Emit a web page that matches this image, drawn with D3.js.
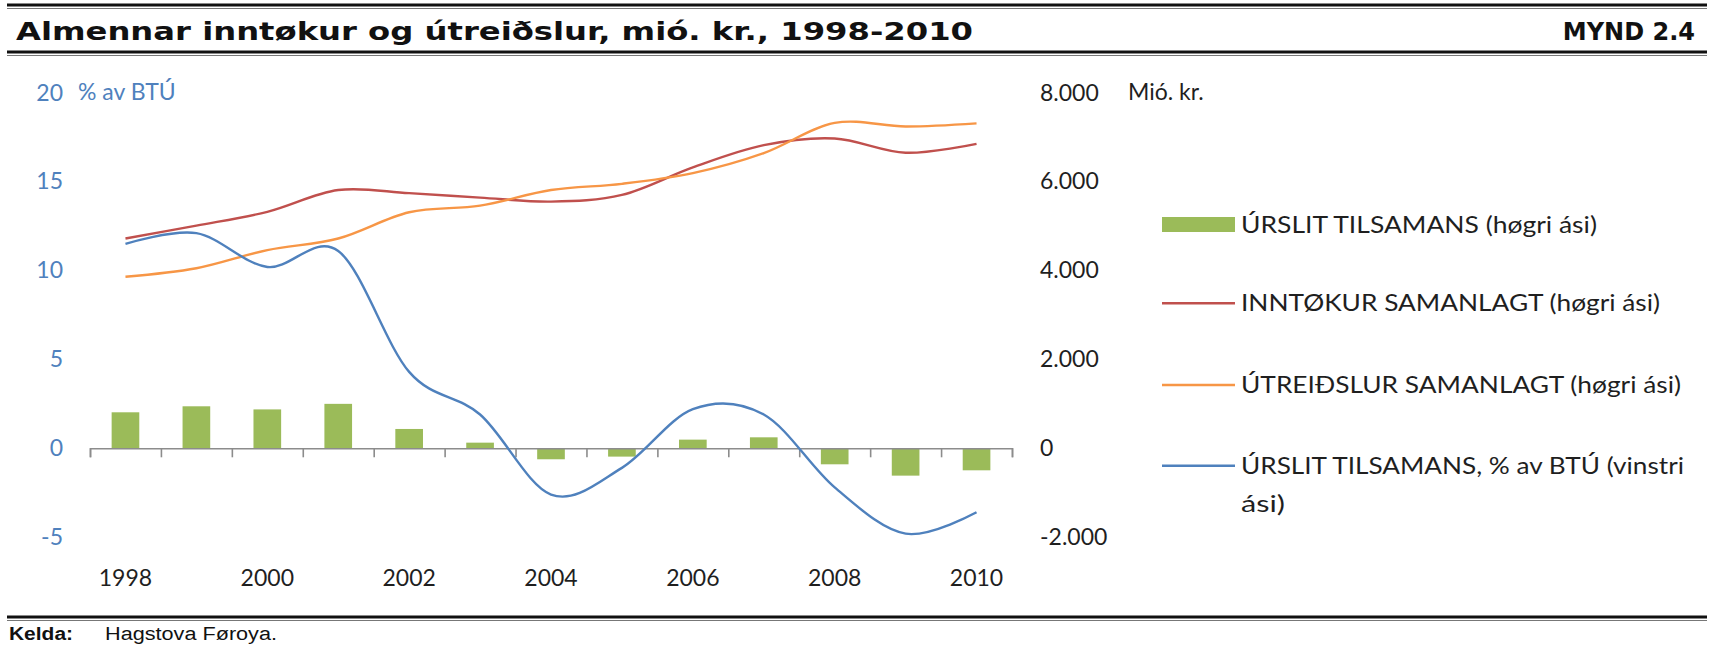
<!DOCTYPE html>
<html>
<head>
<meta charset="utf-8">
<script src="https://cdn.jsdelivr.net/npm/d3@7"></script>
<style>
  html, body { margin: 0; padding: 0; background: #fff; }
  svg { display: block; }
</style>
</head>
<body>
<svg id="chart" width="1715" height="645"></svg>
<script>
// ---------------- DATA ----------------
const years = [1998, 1999, 2000, 2001, 2002, 2003, 2004, 2005, 2006, 2007, 2008, 2009, 2010];
const balance = [810, 945, 875, 1000, 435, 127, -247, -187, 195, 247, -360, -615, -495];          // ÚRSLIT TILSAMANS, mió. kr. (høgri ási)
const revenue = [4720, 5010, 5320, 5810, 5740, 5640, 5550, 5700, 6320, 6820, 6970, 6650, 6850];   // INNTØKUR SAMANLAGT
const expenditure = [3860, 4050, 4460, 4720, 5310, 5460, 5810, 5950, 6190, 6640, 7320, 7240, 7310]; // ÚTREIÐSLUR SAMANLAGT
const balancePct = [11.5, 12.1, 10.2, 11.1, 4.3, 1.9, -2.6, -1.1, 2.2, 1.9, -2.2, -4.8, -3.6];    // % av BTÚ (vinstri ási)

const leftTicks = [-5, 0, 5, 10, 15, 20];
const rightTicks = [-2000, 0, 2000, 4000, 6000, 8000];
const xLabelYears = [1998, 2000, 2002, 2004, 2006, 2008, 2010];

const titleText = "Almennar inntøkur og útreiðslur, mió. kr., 1998-2010";
const figText = "MYND 2.4";
const leftUnit = "% av BTÚ";
const rightUnit = "Mió. kr.";
const sourceLabel = "Kelda:";
const sourceText = "Hagstova Føroya.";

const legendItems = [
  { key: "bar",  lines: ["ÚRSLIT TILSAMANS (høgri ási)"], color: "#9bbb59" },
  { key: "rev",  lines: ["INNTØKUR SAMANLAGT (høgri ási)"], color: "#c0504d" },
  { key: "exp",  lines: ["ÚTREIÐSLUR SAMANLAGT (høgri ási)"], color: "#f79646" },
  { key: "pct",  lines: ["ÚRSLIT TILSAMANS, % av BTÚ (vinstri", "ási)"], color: "#4f81bd" }
];
const legendWidths = [[356], [419], [440], [443, 44]];

// ---------------- LAYOUT ----------------
const svg = d3.select("#chart");
const chartFont = "Lato, 'Open Sans', sans-serif";
const plotTop = 92.7, plotBottom = 537.2;
const xLeft = 90, xRight = 1012;

const x = d3.scaleBand().domain(years).range([xLeft, xRight]).padding(0);
const xTick = d3.scaleLinear().domain([0, years.length]).range([xLeft, xRight]);
const yL = d3.scaleLinear().domain([-5, 20]).range([plotBottom, plotTop]);
const yR = d3.scaleLinear().domain([-2000, 8000]).range([plotBottom, plotTop]);
const cx = d => x(d) + x.bandwidth() / 2;

// ---------------- HEADER ----------------
svg.append("line").attr("x1", 7).attr("x2", 1707).attr("y1", 5).attr("y2", 5)
  .attr("stroke", "#111").attr("stroke-width", 3);
svg.append("line").attr("x1", 7).attr("x2", 1707).attr("y1", 8.5).attr("y2", 8.5)
  .attr("stroke", "#777").attr("stroke-width", 1);
svg.append("line").attr("x1", 7).attr("x2", 1707).attr("y1", 52).attr("y2", 52)
  .attr("stroke", "#111").attr("stroke-width", 3);
svg.append("line").attr("x1", 7).attr("x2", 1707).attr("y1", 55.5).attr("y2", 55.5)
  .attr("stroke", "#777").attr("stroke-width", 1);

svg.append("text").attr("x", 16).attr("y", 40)
  .attr("font-family", "'DejaVu Sans', Verdana, sans-serif").attr("font-weight", "bold")
  .attr("font-size", 24).attr("fill", "#111")
  .attr("textLength", 957).attr("lengthAdjust", "spacingAndGlyphs")
  .text(titleText);
svg.append("text").attr("x", 1695).attr("y", 40).attr("text-anchor", "end")
  .attr("font-family", "'DejaVu Sans', Verdana, sans-serif").attr("font-weight", "bold")
  .attr("font-size", 24).attr("fill", "#111")
  .text(figText);

// ---------------- FOOTER ----------------
svg.append("line").attr("x1", 7).attr("x2", 1707).attr("y1", 617).attr("y2", 617)
  .attr("stroke", "#111").attr("stroke-width", 3);
svg.append("line").attr("x1", 7).attr("x2", 1707).attr("y1", 620.5).attr("y2", 620.5)
  .attr("stroke", "#777").attr("stroke-width", 1);
svg.append("text").attr("x", 9).attr("y", 640)
  .attr("font-family", "'Liberation Sans', Arial, sans-serif").attr("font-weight", "bold")
  .attr("font-size", 18).attr("fill", "#111")
  .attr("textLength", 64).attr("lengthAdjust", "spacingAndGlyphs")
  .text(sourceLabel);
svg.append("text").attr("x", 105).attr("y", 640)
  .attr("font-family", "'Liberation Sans', Arial, sans-serif")
  .attr("font-size", 18).attr("fill", "#111")
  .attr("textLength", 172).attr("lengthAdjust", "spacingAndGlyphs")
  .text(sourceText);

// ---------------- BARS ----------------
const barW = x.bandwidth() * 0.39;
svg.append("g").selectAll("rect").data(years).join("rect")
  .attr("x", (d) => cx(d) - barW / 2)
  .attr("width", barW)
  .attr("y", (d, i) => yR(Math.max(0, balance[i])))
  .attr("height", (d, i) => Math.abs(yR(balance[i]) - yR(0)))
  .attr("fill", "#9bbb59");

// ---------------- X AXIS ----------------
const xAxis = d3.axisBottom(xTick).tickValues(d3.range(years.length + 1))
  .tickSize(9).tickSizeOuter(9).tickFormat("");
const gx = svg.append("g").attr("transform", `translate(0,${yR(0)})`).call(xAxis);
gx.selectAll("path, line").attr("stroke", "#8c8c8c").attr("stroke-width", 1.6);

svg.append("g").selectAll("text").data(xLabelYears).join("text")
  .attr("x", d => cx(d)).attr("y", 586)
  .attr("text-anchor", "middle")
  .attr("font-family", chartFont).attr("font-size", 23).attr("fill", "#1f1f1f")
  .text(d => d);

// ---------------- LINES ----------------
const curve = d3.curveCardinal.tension(0);
const lineR = d3.line().x((d, i) => cx(years[i])).y(d => yR(d)).curve(curve);
const lineL = d3.line().x((d, i) => cx(years[i])).y(d => yL(d)).curve(curve);

svg.append("path").datum(revenue).attr("d", lineR)
  .attr("fill", "none").attr("stroke", "#c0504d").attr("stroke-width", 2.4);
svg.append("path").datum(expenditure).attr("d", lineR)
  .attr("fill", "none").attr("stroke", "#f79646").attr("stroke-width", 2.4);
svg.append("path").datum(balancePct).attr("d", lineL)
  .attr("fill", "none").attr("stroke", "#4f81bd").attr("stroke-width", 2.4);

// ---------------- Y AXES ----------------
const gl = svg.append("g").attr("transform", "translate(63,0)")
  .call(d3.axisLeft(yL).tickValues(leftTicks).tickSize(0).tickPadding(0)
    .tickFormat(d => (d < 0 ? "-" : "") + Math.abs(d)));
gl.select(".domain").remove();
gl.selectAll("text").attr("font-family", chartFont).attr("font-size", 23).attr("fill", "#4f81bd");

const loc = d3.formatLocale({ decimal: ",", thousands: ".", grouping: [3], currency: ["", ""], minus: "-" });
const fmt = loc.format(",");
const gr = svg.append("g").attr("transform", "translate(1040,0)")
  .call(d3.axisRight(yR).tickValues(rightTicks).tickSize(0).tickPadding(0).tickFormat(fmt));
gr.select(".domain").remove();
gr.selectAll("text").attr("font-family", chartFont).attr("font-size", 23).attr("fill", "#1f1f1f");

svg.append("text").attr("x", 78).attr("y", yL(20)).attr("dy", "0.32em")
  .attr("font-family", chartFont).attr("font-size", 23).attr("fill", "#4f81bd")
  .text(leftUnit);
svg.append("text").attr("x", 1128).attr("y", yR(8000)).attr("dy", "0.32em")
  .attr("font-family", chartFont).attr("font-size", 23).attr("fill", "#1f1f1f")
  .text(rightUnit);

// ---------------- LEGEND ----------------
const legendY = [224.5, 303.3, 385, 465.7];
const lg = svg.append("g");
legendItems.forEach((item, i) => {
  const y = legendY[i];
  if (item.key === "bar") {
    lg.append("rect").attr("x", 1162).attr("y", y - 7.5).attr("width", 73).attr("height", 15)
      .attr("fill", item.color);
  } else {
    lg.append("line").attr("x1", 1162).attr("x2", 1235).attr("y1", y).attr("y2", y)
      .attr("stroke", item.color).attr("stroke-width", 2.4);
  }
  item.lines.forEach((t, j) => {
    lg.append("text").attr("x", 1241).attr("y", y + 8 + j * 38.5)
      .attr("font-family", chartFont).attr("font-size", 23).attr("fill", "#1f1f1f")
      .attr("textLength", legendWidths[i][j]).attr("lengthAdjust", "spacingAndGlyphs")
      .text(t);
  });
});
</script>
</body>
</html>
